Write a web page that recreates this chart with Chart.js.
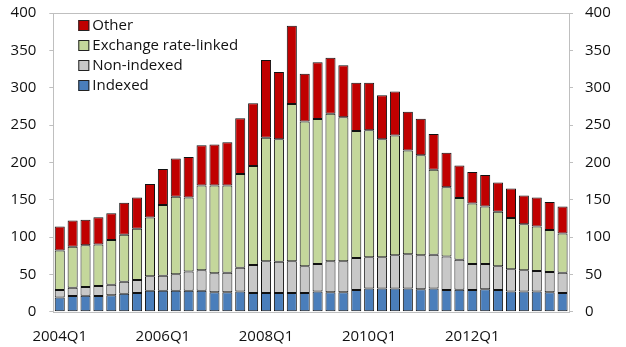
<!DOCTYPE html>
<html>
<head>
<meta charset="utf-8">
<script src="https://cdn.jsdelivr.net/npm/chart.js@4/dist/chart.umd.min.js"></script>
<style>
  html, body { margin: 0; padding: 0; background: #fff; }
  #wrap { width: 626px; height: 347px; }
</style>
</head>
<body>
<div id="wrap"><canvas id="debt" width="626" height="347"></canvas></div>
<script>
const quarters = [
  '2004Q1', '2004Q2', '2004Q3', '2004Q4', '2005Q1', '2005Q2', '2005Q3', '2005Q4',
  '2006Q1', '2006Q2', '2006Q3', '2006Q4', '2007Q1', '2007Q2', '2007Q3', '2007Q4',
  '2008Q1', '2008Q2', '2008Q3', '2008Q4', '2009Q1', '2009Q2', '2009Q3', '2009Q4',
  '2010Q1', '2010Q2', '2010Q3', '2010Q4', '2011Q1', '2011Q2', '2011Q3', '2011Q4',
  '2012Q1', '2012Q2', '2012Q3', '2012Q4', '2013Q1', '2013Q2', '2013Q3', '2013Q4',
];

const indexed = [
  19, 21, 21.5, 21, 22, 24, 25, 28, 28, 28, 28, 28, 26, 26, 27, 25,
  25, 25, 25, 25, 27, 26, 26, 29, 31, 31, 31, 31, 30, 31, 29, 29.5,
  29, 30, 29, 27, 27, 27, 26, 25,
];
const nonIndexed = [
  10, 11, 11.5, 13.5, 14, 16, 17.5, 19.5, 20, 22, 26, 27.5, 25.5, 26, 32, 37.5,
  42.5, 42, 42.5, 36, 37, 41.5, 41.5, 43, 42, 42, 44.5, 46, 45.5, 45.4, 45, 40.2,
  35, 34, 32, 30, 28.4, 27.5, 27, 27,
];
const exchangeLinked = [
  53, 55, 56, 55.5, 60, 63, 68.5, 78.5, 95, 104, 99, 113.5, 117.5, 117, 125.5, 132.5,
  165.5, 164, 210.5, 193.7, 194, 197.5, 193, 170, 170, 158, 160.5, 139, 134, 113.6, 92.7, 82.7,
  81, 77, 73, 68.6, 61.6, 59.5, 56.5, 52.6,
];
const other = [
  32, 35, 34, 36.5, 36, 43, 42, 45, 48, 51, 54, 54, 55, 58, 74.5, 84,
  104, 90, 105, 64, 76, 75, 69.5, 64.5, 63.5, 59, 59, 51.6, 49, 48, 46.3, 43.3,
  42, 42, 39, 39.4, 38.5, 39, 37.5, 36.4,
];

const yTicks = [0, 50, 100, 150, 200, 250, 300, 350, 400];
const fontFamily = '"Open Sans", "Noto Sans", sans-serif';
const axisGray = '#bfbfbf';

// box round the plot area plus a legend drawn inside it, top left
const frameAndLegend = {
  id: 'frameAndLegend',
  beforeDatasetsDraw(chart) {
    const { ctx, chartArea: a } = chart;
    ctx.save();
    ctx.strokeStyle = axisGray;
    ctx.lineWidth = 1;
    ctx.strokeRect(Math.round(a.left) + 0.5, Math.round(a.top) + 0.5,
      Math.round(a.right - a.left), Math.round(a.bottom - a.top));
    ctx.restore();
  },
  afterDraw(chart) {
    const { ctx, chartArea: a } = chart;
    const sets = chart.data.datasets.slice().reverse();
    ctx.save();
    ctx.font = '15px ' + fontFamily;
    ctx.textBaseline = 'middle';
    sets.forEach((ds, i) => {
      const y = a.top + 13 + i * 20;
      const x = a.left + 25;
      ctx.fillStyle = ds.backgroundColor;
      ctx.fillRect(x, y - 6, 11, 11);
      ctx.strokeStyle = '#222';
      ctx.lineWidth = 1;
      ctx.strokeRect(x + 0.5, y - 5.5, 10, 10);
      ctx.fillStyle = '#111';
      ctx.fillText(ds.label, x + 14, y);
    });
    ctx.restore();
  },
};

function makeSet(label, data, color) {
  return {
    label: label,
    data: data,
    backgroundColor: color,
    borderColor: '#111',
    borderWidth: 1,
    borderSkipped: false,
    barPercentage: 0.78,
    categoryPercentage: 1,
  };
}

const yAxis = (pos, width) => ({
  position: pos,
  stacked: true,
  min: 0,
  max: 400,
  afterBuildTicks(axis) { axis.ticks = yTicks.map((v) => ({ value: v })); },
  afterFit(axis) {
    axis.width = width;
    axis.paddingTop = 0;
    axis.paddingBottom = 0;
  },
  grid: {
    drawOnChartArea: false,
    drawTicks: true,
    tickLength: 4,
    color: axisGray,
  },
  border: { display: false },
  ticks: {
    color: '#111',
    padding: pos === 'left' ? 13 : 12,
    font: { family: fontFamily, size: 15 },
  },
});

new Chart(document.getElementById('debt').getContext('2d'), {
  type: 'bar',
  data: {
    labels: quarters,
    datasets: [
      makeSet('Indexed', indexed, '#4a7ebb'),
      makeSet('Non-indexed', nonIndexed, '#c8c8c8'),
      makeSet('Exchange rate-linked', exchangeLinked, '#c4d79b'),
      makeSet('Other', other, '#c00000'),
    ],
  },
  options: {
    responsive: false,
    animation: false,
    layout: { padding: { top: 13, left: 0, right: 0, bottom: 0 } },
    scales: {
      x: {
        stacked: true,
        afterFit(axis) {
          axis.height = 35.3;
          axis.paddingLeft = 0;
          axis.paddingRight = 0;
        },
        grid: { display: false },
        border: { display: false },
        ticks: {
          autoSkip: false,
          maxRotation: 0,
          padding: 8,
          color: '#111',
          font: { family: fontFamily, size: 15 },
          callback(value, index) {
            return index % 8 === 0 ? quarters[index] : '';
          },
        },
      },
      y: yAxis('left', 53.3),
      y2: yAxis('right', 57),
    },
    plugins: {
      legend: { display: false },
      tooltip: { enabled: false },
    },
  },
  plugins: [frameAndLegend],
});
</script>
</body>
</html>
